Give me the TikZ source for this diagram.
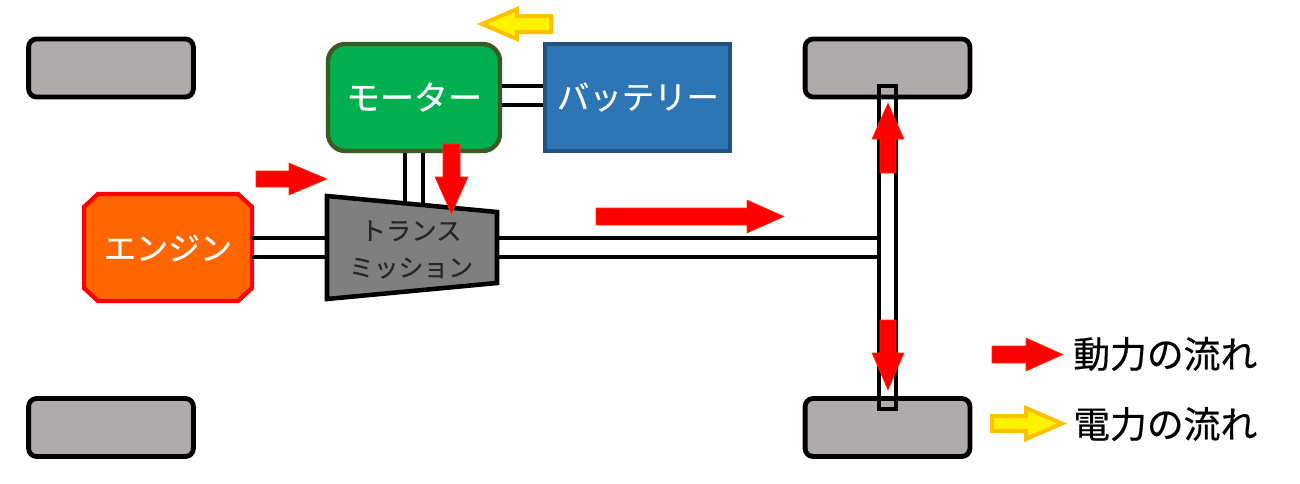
\documentclass[tikz,border=0pt]{standalone}
\usepackage{fontspec}
\setmainfont{Noto Sans CJK JP}[FakeBold=0.4]
\definecolor{wheelgray}{HTML}{AFABAB}
\definecolor{motorgreen}{HTML}{00B050}
\definecolor{motoredge}{HTML}{3B5B25}
\definecolor{battblue}{HTML}{2E75B6}
\definecolor{battedge}{HTML}{215483}
\definecolor{engorange}{HTML}{FF6600}
\definecolor{transgray}{HTML}{7F7F7F}
\definecolor{arrowedge}{HTML}{FF3300}
\definecolor{elecedge}{HTML}{FFC000}
\tikzset{
  wheel/.style={draw=black,line width=3.6pt,fill=wheelgray,rounded corners=6pt,minimum width=123.6pt,minimum height=43.5pt,inner sep=0pt},
  motorbox/.style={draw=motoredge,line width=3.3pt,fill=motorgreen,rounded corners=13pt,minimum width=129pt,minimum height=80.25pt,inner sep=0pt},
  battbox/.style={draw=battedge,line width=3.3pt,fill=battblue,minimum width=138.75pt,minimum height=80.25pt,inner sep=0pt},
  engshape/.style={draw=red,line width=3.3pt,fill=engorange,line join=miter},
  engbox/.style={minimum width=126pt,minimum height=80.25pt,inner sep=0pt,text=white,font=\fontsize{24}{28}\selectfont},
  transshape/.style={draw=black,line width=3.4pt,fill=transgray,line join=miter},
  translabel/.style={align=center,inner sep=0pt,text=black!85,font=\fontsize{18.6}{27.5}\selectfont},
  axlebox/.style={draw=black,line width=3.3pt,minimum width=12.75pt,minimum height=242.25pt,inner sep=0pt},
  shaft/.style={draw=black,line width=3.2pt},
  powerarrow/.style={fill=red,draw=arrowedge,line width=.4pt,line join=miter},
  elecarrow/.style={fill=yellow,draw=elecedge,line width=3pt,line join=miter},
  legendtext/.style={anchor=west,inner sep=0pt,text=black,font=\fontsize{27.6}{30}\selectfont}
}
\begin{document}
\begin{tikzpicture}[x=0.75pt,y=-0.75pt]
\useasboundingbox (0,0) rectangle (1300,483);
% wheels
\node[wheel] (wheelTL) at (111,68) {};
\node[wheel] (wheelBL) at (111,427.5) {};
\node[wheel] (wheelTR) at (887.5,68) {};
\node[wheel] (wheelBR) at (887.5,427.5) {};
\node[axlebox] (axle) at (887.5,247.5) {};
% blocks
\node[motorbox] (motor) at (414,97.5) {};
\node[battbox] (batt) at (637.5,97.5) {};
\draw[engshape] (98,194) -- (238,194) -- (252,207) -- (252,288) -- (238,301) -- (98,301) -- (84,288) -- (84,207) -- cycle;
\node[engbox] (engine) at (168,247.5) {};
\coordinate (transL) at (327,247.5);
\coordinate (transR) at (497,247.5);
\coordinate (transT) at (414,206);
% shafts
\draw[shaft] (motor.east |- 0,86) -- (batt.west |- 0,86);
\draw[shaft] (motor.east |- 0,105) -- (batt.west |- 0,105);
\draw[shaft] (405,0 |- motor.south) -- (405,0 |- transT);
\draw[shaft] (423,0 |- motor.south) -- (423,0 |- transT);
\draw[shaft] (engine.east |- 0,238) -- (transL |- 0,238);
\draw[shaft] (engine.east |- 0,257) -- (transL |- 0,257);
\draw[shaft] (transR |- 0,238) -- (axle.west |- 0,238);
\draw[shaft] (transR |- 0,257) -- (axle.west |- 0,257);
% transmission
\draw[transshape] (327,196) -- (497,212) -- (497,283) -- (327,299) -- cycle;
\node[translabel] (trans) at (411,249.5) {{\fontsize{19}{27.5}\selectfont トランス}\\ミッション};
% labels on blocks
\node[text=white,inner sep=0pt,font=\fontsize{25.5}{28}\selectfont] (motorlabel) at (414,97) {モーター};
\node[text=white,inner sep=0pt,font=\fontsize{24.3}{28}\selectfont] (battlabel) at (638,97) {バッテリー};
\node[text=white,inner sep=0pt,font=\fontsize{24}{28}\selectfont] (englabel) at (168,248) {エンジン};
% power arrows
\draw[powerarrow] (256,171) -- (289,171) -- (289,163) -- (327,179) -- (289,195) -- (289,187) -- (256,187) -- cycle;
\draw[powerarrow] (443,144) -- (460,144) -- (460,177) -- (468,177) -- (451.5,214) -- (435,177) -- (443,177) -- cycle;
\draw[powerarrow] (596,208) -- (747,208) -- (747,200) -- (784,216.5) -- (747,233) -- (747,225) -- (596,225) -- cycle;
\draw[powerarrow] (880,173) -- (880,139) -- (872,139) -- (888,103) -- (904,139) -- (896,139) -- (896,173) -- cycle;
\draw[powerarrow] (880,320) -- (880,353) -- (872,353) -- (888,390) -- (904,353) -- (896,353) -- (896,320) -- cycle;
% electric arrow
\draw[elecarrow] (551,16) -- (517,16) -- (517,9) -- (482,24) -- (517,39) -- (517,32) -- (551,32) -- cycle;
% legend
\draw[powerarrow] (992,346) -- (1026,346) -- (1026,338) -- (1063,354.5) -- (1026,371) -- (1026,363) -- (992,363) -- cycle;
\draw[elecarrow] (992,416) -- (1026,416) -- (1026,408) -- (1062,423.5) -- (1026,439) -- (1026,431) -- (992,431) -- cycle;
\node[legendtext] (legendpower) at (1073,354) {動力の流れ};
\node[legendtext] (legendelec) at (1073,424) {電力の流れ};
\end{tikzpicture}
\end{document}
